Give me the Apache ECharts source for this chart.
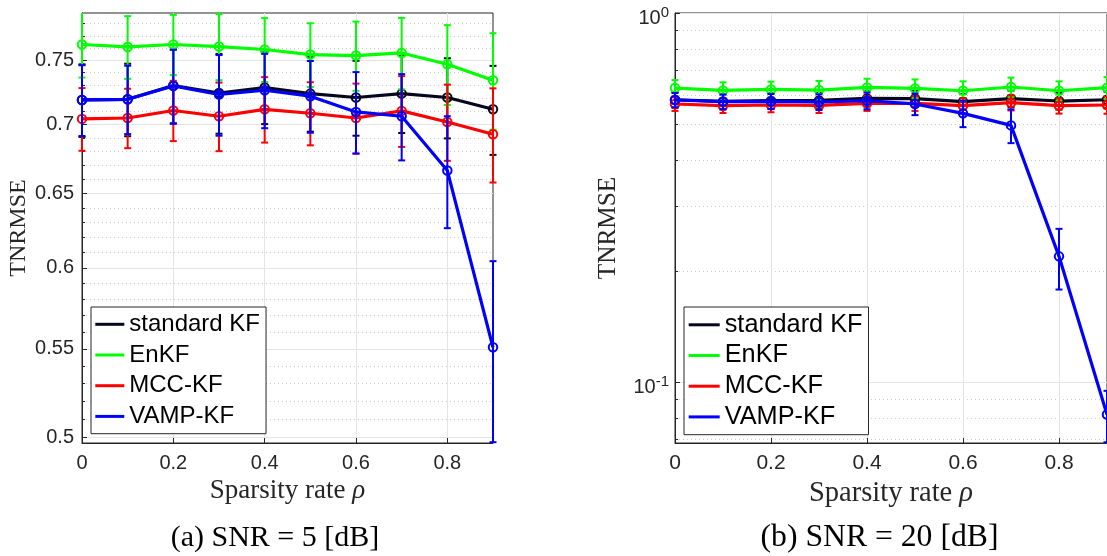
<!DOCTYPE html>
<html><head><meta charset="utf-8">
<script src="https://cdn.jsdelivr.net/npm/echarts@6/dist/echarts.min.js"></script>
<style>html,body{margin:0;padding:0;background:#fff}#c{width:1107px;height:556px}</style>
</head><body><div id="c"></div>
<script>
// ---- data ----
const rho = [0, 0.1, 0.2, 0.3, 0.4, 0.5, 0.6, 0.7, 0.8, 0.9];
const names = ['standard KF', 'EnKF', 'MCC-KF', 'VAMP-KF'];
const colors = ['#06061c', '#00ff00', '#ff0000', '#0000ff'];

// (a) SNR = 5 dB : mean and half-width of error bars
const kf5      = [0.7187, 0.7192, 0.7299, 0.7241, 0.7283, 0.7236, 0.7206, 0.7236, 0.7206, 0.7115];
const kf5Err   = [0.028, 0.028, 0.029, 0.031, 0.028, 0.029, 0.029, 0.030, 0.031, 0.034];
const enkf5    = [0.7628, 0.7608, 0.7628, 0.7611, 0.7587, 0.7546, 0.7538, 0.7559, 0.7468, 0.7341];
const enkf5Err = [0.0266, 0.0256, 0.0247, 0.027, 0.026, 0.0258, 0.028, 0.029, 0.032, 0.038];
const mcc5     = [0.7042, 0.7049, 0.7106, 0.7062, 0.7115, 0.7085, 0.7049, 0.7103, 0.7019, 0.6927];
const mcc5Err  = [0.0237, 0.0225, 0.023, 0.026, 0.025, 0.024, 0.0265, 0.027, 0.0287, 0.035];
const vamp5    = [0.7187, 0.7192, 0.7295, 0.7229, 0.7262, 0.7216, 0.7095, 0.7062, 0.6662, 0.551];
const vamp5Err = [0.0273, 0.0264, 0.029, 0.0313, 0.029, 0.0278, 0.031, 0.0327, 0.040, 0.0534];

// (b) SNR = 20 dB
const kf20      = [0.5823, 0.5762, 0.5787, 0.5798, 0.5872, 0.5860, 0.5751, 0.5860, 0.5776, 0.5823];
const kf20Err   = [0.028, 0.028, 0.028, 0.028, 0.029, 0.029, 0.029, 0.030, 0.030, 0.030];
const enkf20    = [0.6263, 0.6170, 0.6209, 0.6186, 0.6287, 0.6248, 0.6159, 0.6304, 0.6159, 0.6276];
const enkf20Err = [0.032, 0.032, 0.031, 0.036, 0.035, 0.036, 0.037, 0.038, 0.037, 0.043];
const mcc20     = [0.5670, 0.5610, 0.5635, 0.5620, 0.5691, 0.5691, 0.5610, 0.5716, 0.5610, 0.5635];
const mcc20Err  = [0.024, 0.025, 0.025, 0.026, 0.026, 0.026, 0.027, 0.027, 0.027, 0.030];
const vamp20    = [0.5813, 0.5751, 0.5762, 0.5741, 0.5787, 0.5670, 0.5348, 0.4962, 0.2193, 0.0818];
const vamp20Err = [0.026, 0.026, 0.027, 0.028, 0.030, 0.038, 0.044, 0.052, 0.041, 0.013];

// ticks
const xTicks = [0, 0.2, 0.4, 0.6, 0.8];
const yTicks5 = [0.5, 0.55, 0.6, 0.65, 0.7, 0.75];
const yMinor5 = [0.51, 0.52, 0.53, 0.54, 0.56, 0.57, 0.58, 0.59, 0.61, 0.62, 0.63, 0.64,
                 0.66, 0.67, 0.68, 0.69, 0.71, 0.72, 0.73, 0.74, 0.76, 0.77, 0.78];
const yTicks20 = [0.1, 1];
const yMinor20 = [0.07, 0.08, 0.09, 0.2, 0.3, 0.4, 0.5, 0.6, 0.7, 0.8, 0.9];

const sets5 = [[kf5, kf5Err], [enkf5, enkf5Err], [mcc5, mcc5Err], [vamp5, vamp5Err]];
const sets20 = [[kf20, kf20Err], [enkf20, enkf20Err], [mcc20, mcc20Err], [vamp20, vamp20Err]];

// ---- chart ----
const AX = '#262626';
const GRIDC = '#e4e4e4';
const MINORC = '#cccccc';

function errSeries(k, gi, means, errs) {
  const color = colors[k];
  return {
    type: 'custom', name: names[k] + ' err', xAxisIndex: gi, yAxisIndex: gi * 2,
    z: 10 + k * 2, silent: true,
    data: rho.map((x, i) => [x, means[i] - errs[i], means[i] + errs[i]]),
    encode: { x: 0, y: [1, 2] },
    renderItem(params, api) {
      const cs = params.coordSys;
      const top = cs.y, bot = cs.y + cs.height;
      const x = api.value(0);
      const pHi = api.coord([x, api.value(2)]);
      const pLo = api.coord([x, api.value(1)]);
      const y1 = Math.max(top, pHi[1]), y2 = Math.min(bot, pLo[1]);
      const cx = pHi[0], w = 3.5;
      const st = { stroke: color, lineWidth: 2 };
      const ch = [{ type: 'line', shape: { x1: cx, y1: y1, x2: cx, y2: y2 }, style: st }];
      if (pHi[1] >= top) ch.push({ type: 'line', shape: { x1: cx - w, y1: y1, x2: cx + w, y2: y1 }, style: st });
      if (pLo[1] <= bot) ch.push({ type: 'line', shape: { x1: cx - w, y1: y2, x2: cx + w, y2: y2 }, style: st });
      return { type: 'group', children: ch };
    }
  };
}
function lineSeries(k, gi, means) {
  const color = colors[k];
  return {
    type: 'line', name: names[k], xAxisIndex: gi, yAxisIndex: gi * 2,
    z: 11 + k * 2,
    data: rho.map((x, i) => [x, means[i]]),
    symbol: 'circle', symbolSize: 8.5,
    lineStyle: { color: color, width: 3.2 },
    itemStyle: { color: 'rgba(0,0,0,0)', borderColor: color, borderWidth: 2 },
    clip: true
  };
}

function xAxisCfg(gi, fs, nameFs, gap) {
  return {
    type: 'value', gridIndex: gi, min: 0, max: 0.9,
    axisLine: { show: true, onZero: false, lineStyle: { color: AX, width: 1 } },
    axisTick: { show: true, inside: true, length: 5, customValues: xTicks, lineStyle: { color: AX } },
    axisLabel: { customValues: xTicks, formatter: v => String(Math.round(v * 10) / 10),
      fontSize: fs, fontFamily: 'Liberation Sans', color: AX, margin: 10 },
    splitLine: { show: true, lineStyle: { color: GRIDC, width: 1 } },
    name: '{t|Sparsity rate }{r|ρ}', nameLocation: 'middle', nameGap: gap,
    nameTextStyle: { fontFamily: 'Liberation Serif', fontSize: nameFs, color: AX,
      rich: {
        t: { fontFamily: 'Liberation Serif', fontSize: nameFs, color: AX },
        r: { fontFamily: 'Liberation Serif', fontSize: nameFs, fontStyle: 'italic', color: AX }
      } }
  };
}

function legendData() {
  return names.map((n, k) => ({ name: n, itemStyle: { color: colors[k], borderWidth: 0 } }));
}

const option = {
  animation: false,
  backgroundColor: '#fff',
  grid: [
    { left: 82, top: 13, width: 411, height: 430, show: true, borderColor: AX, borderWidth: 1, backgroundColor: 'transparent' },
    { left: 675, top: 13, width: 433, height: 430, show: true, borderColor: AX, borderWidth: 1, backgroundColor: 'transparent' }
  ],
  xAxis: [xAxisCfg(0, 20, 27, 33), xAxisCfg(1, 21, 28.5, 32)],
  yAxis: [
    { type: 'log', logBase: 10, gridIndex: 0, min: 0.49716, max: 0.78905,
      axisLine: { show: true, lineStyle: { color: AX, width: 1 } },
      axisTick: { show: true, inside: true, length: 5, customValues: yTicks5, lineStyle: { color: AX } },
      axisLabel: { customValues: yTicks5, formatter: v => String(Math.round(v * 100) / 100),
        fontSize: 20, fontFamily: 'Liberation Sans', color: AX, margin: 8 },
      splitLine: { show: true, lineStyle: { color: GRIDC, width: 1 } },
      minorTick: { show: false }, minorSplitLine: { show: false },
      name: 'TNRMSE', nameLocation: 'middle', nameGap: 51,
      nameTextStyle: { fontFamily: 'Liberation Serif', fontSize: 24, color: AX } },
    { type: 'log', logBase: 10, gridIndex: 0, min: 0.49716, max: 0.78905, position: 'left',
      axisLine: { show: false },
      axisTick: { show: true, inside: true, length: 3, customValues: yMinor5, lineStyle: { color: AX } },
      axisLabel: { show: false },
      splitLine: { show: true, lineStyle: { color: MINORC, width: 1, type: [1, 3] } } },
    { type: 'log', logBase: 10, gridIndex: 1, min: 0.06848, max: 1,
      axisLine: { show: true, lineStyle: { color: AX, width: 1 } },
      axisTick: { show: true, inside: true, length: 5, customValues: yTicks20, lineStyle: { color: AX } },
      axisLabel: { customValues: yTicks20,
        formatter: v => '{b|10}{s|' + Math.round(Math.log10(v)) + '}',
        padding: [10, 0, 0, 0], margin: 6, color: AX,
        rich: {
          b: { fontSize: 20, fontFamily: 'Liberation Sans', color: AX, lineHeight: 26 },
          s: { fontSize: 15, fontFamily: 'Liberation Sans', color: AX, lineHeight: 14, verticalAlign: 'top' }
        } },
      splitLine: { show: true, lineStyle: { color: GRIDC, width: 1 } },
      minorTick: { show: false }, minorSplitLine: { show: false },
      name: 'TNRMSE', nameLocation: 'middle', nameGap: 54,
      nameTextStyle: { fontFamily: 'Liberation Serif', fontSize: 25.3, color: AX } },
    { type: 'log', logBase: 10, gridIndex: 1, min: 0.06848, max: 1, position: 'left',
      axisLine: { show: false },
      axisTick: { show: true, inside: true, length: 3, customValues: yMinor20, lineStyle: { color: AX } },
      axisLabel: { show: false },
      splitLine: { show: true, lineStyle: { color: MINORC, width: 1, type: [1, 3] } } }
  ],
  legend: [
    { left: 91, top: 307, orient: 'vertical', data: legendData(), icon: 'rect', selectedMode: false,
      itemWidth: 29, itemHeight: 3, itemGap: 6.7, padding: [5.3, 6, 5.3, 4.3],
      backgroundColor: '#fff', borderColor: AX, borderWidth: 1, borderRadius: 0,
      textStyle: { fontSize: 24, lineHeight: 24, fontFamily: 'Liberation Sans', color: '#000' }, z: 50 },
    { left: 684, top: 307, orient: 'vertical', data: legendData(), icon: 'rect', selectedMode: false,
      itemWidth: 31, itemHeight: 3, itemGap: 5.7, padding: [5.3, 6, 5.3, 4.7],
      backgroundColor: '#fff', borderColor: AX, borderWidth: 1, borderRadius: 0,
      textStyle: { fontSize: 25.3, lineHeight: 25, fontFamily: 'Liberation Sans', color: '#000' }, z: 50 }
  ],
  graphic: [
    { type: 'text', x: 275, y: 538, z: 100,
      style: { text: '(a) SNR = 5 [dB]', fontSize: 30, fontFamily: 'Liberation Serif', fill: '#000',
        align: 'center', verticalAlign: 'middle', textAlign: 'center', textVerticalAlign: 'middle' } },
    { type: 'text', x: 879.5, y: 538, z: 100,
      style: { text: '(b) SNR = 20 [dB]', fontSize: 31.7, fontFamily: 'Liberation Serif', fill: '#000',
        align: 'center', verticalAlign: 'middle', textAlign: 'center', textVerticalAlign: 'middle' } }
  ],
  series: []
};

sets5.forEach((s, k) => { option.series.push(errSeries(k, 0, s[0], s[1])); option.series.push(lineSeries(k, 0, s[0])); });
sets20.forEach((s, k) => { option.series.push(errSeries(k, 1, s[0], s[1])); option.series.push(lineSeries(k, 1, s[0])); });

const chart = echarts.init(document.getElementById('c'), null, { renderer: 'canvas' });
chart.setOption(option);
</script></body></html>
